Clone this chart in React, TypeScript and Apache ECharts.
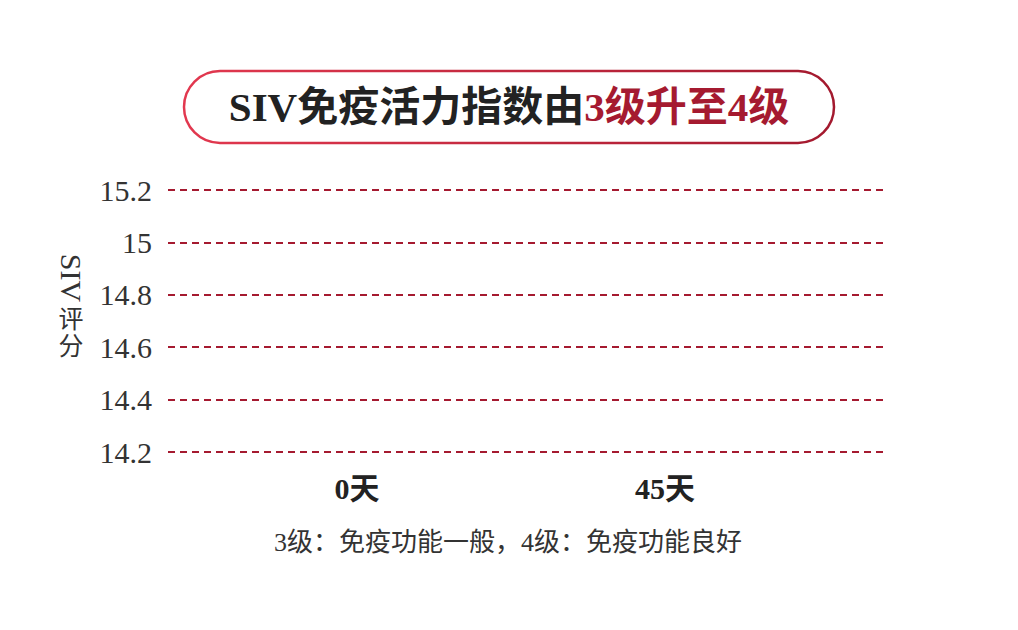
import React, { useEffect, useRef } from 'react';
import * as echarts from 'echarts';

// 데이터
const days = ['0天', '45天'];
const yTicks = [14.2, 14.4, 14.6, 14.8, 15, 15.2];
// 그림에 막대가 보이지 않음 (값 없음)
const sivScores: (number | null)[] = [null, null];

const titleBlack = 'SIV免疫活力指数由';
const titleRed = '3级升至4级';
const note = '3级：免疫功能一般，4级：免疫功能良好';

const RED = '#a51a30';
const SERIF = '"Liberation Serif", "Noto Sans CJK SC", serif';

const App: React.FC = () => {
  const chartRef = useRef<HTMLDivElement>(null);

  useEffect(() => {
    if (!chartRef.current) return;
    const chart = echarts.init(chartRef.current, undefined, { renderer: 'svg' });

    const yMin = yTicks[0];
    const yMax = yTicks[yTicks.length - 1];

    const option = {
      animation: false,
      backgroundColor: '#fff',
      grid: [
        { left: 168, right: 134, top: 190, bottom: 178 },
        { left: 203, right: 199, top: 190, bottom: 178 },
      ],
      xAxis: [
        { type: 'category', gridIndex: 0, data: days, show: false },
        {
          type: 'category',
          gridIndex: 1,
          data: days,
          axisLine: { show: false },
          axisTick: { show: false },
          axisLabel: {
            margin: 21,
            fontSize: 30,
            fontWeight: 'bold',
            color: '#222',
            fontFamily: SERIF,
          },
        },
      ],
      yAxis: [
        {
          type: 'value',
          gridIndex: 0,
          min: yMin,
          max: yMax,
          interval: 0.2,
          axisLine: { show: false },
          axisTick: { show: false },
          axisLabel: {
            margin: 16,
            fontSize: 30,
            color: '#333',
            fontFamily: SERIF,
          },
          splitLine: {
            lineStyle: { color: RED, width: 2, type: [7, 5] },
          },
        },
        { type: 'value', gridIndex: 1, min: yMin, max: yMax, show: false },
      ],
      series: [
        {
          type: 'bar',
          xAxisIndex: 1,
          yAxisIndex: 1,
          data: sivScores,
          itemStyle: { color: RED },
        },
      ],
      graphic: [
        {
          type: 'rect',
          shape: { x: 184, y: 71, width: 650, height: 72, r: 36 },
          style: {
            fill: '#fff',
            lineWidth: 2.5,
            stroke: new echarts.graphic.LinearGradient(0, 0, 1, 0, [
              { offset: 0, color: '#e2384f' },
              { offset: 1, color: '#a3192e' },
            ]),
          },
        },
        {
          type: 'text',
          x: 509,
          y: 107,
          style: {
            text: `{a|${titleBlack}}{b|${titleRed}}`,
            align: 'center',
            verticalAlign: 'middle',
            rich: {
              a: { fontSize: 41, fontWeight: 'bold', fill: '#222', fontFamily: SERIF },
              b: { fontSize: 41, fontWeight: 'bold', fill: RED, fontFamily: SERIF },
            },
          },
        },
        {
          type: 'text',
          x: 71,
          y: 278,
          rotation: -Math.PI / 2,
          style: {
            text: 'SIV',
            align: 'center',
            verticalAlign: 'middle',
            fontSize: 30,
            fill: '#333',
            fontFamily: SERIF,
          },
        },
        {
          type: 'text',
          x: 71,
          y: 333,
          style: {
            text: '评\n分',
            align: 'center',
            verticalAlign: 'middle',
            fontSize: 25,
            lineHeight: 27,
            fill: '#333',
            fontFamily: SERIF,
          },
        },
        {
          type: 'text',
          x: 508,
          y: 542,
          style: {
            text: note,
            align: 'center',
            verticalAlign: 'middle',
            fontSize: 26,
            fill: '#333',
            fontFamily: SERIF,
          },
        },
      ],
    };

    chart.setOption(option);

    return () => {
      chart.dispose();
    };
  }, []);

  return (
    <div
      ref={chartRef}
      style={{ position: 'absolute', left: 0, top: 0, width: 1018, height: 630 }}
    />
  );
};

export default App;
